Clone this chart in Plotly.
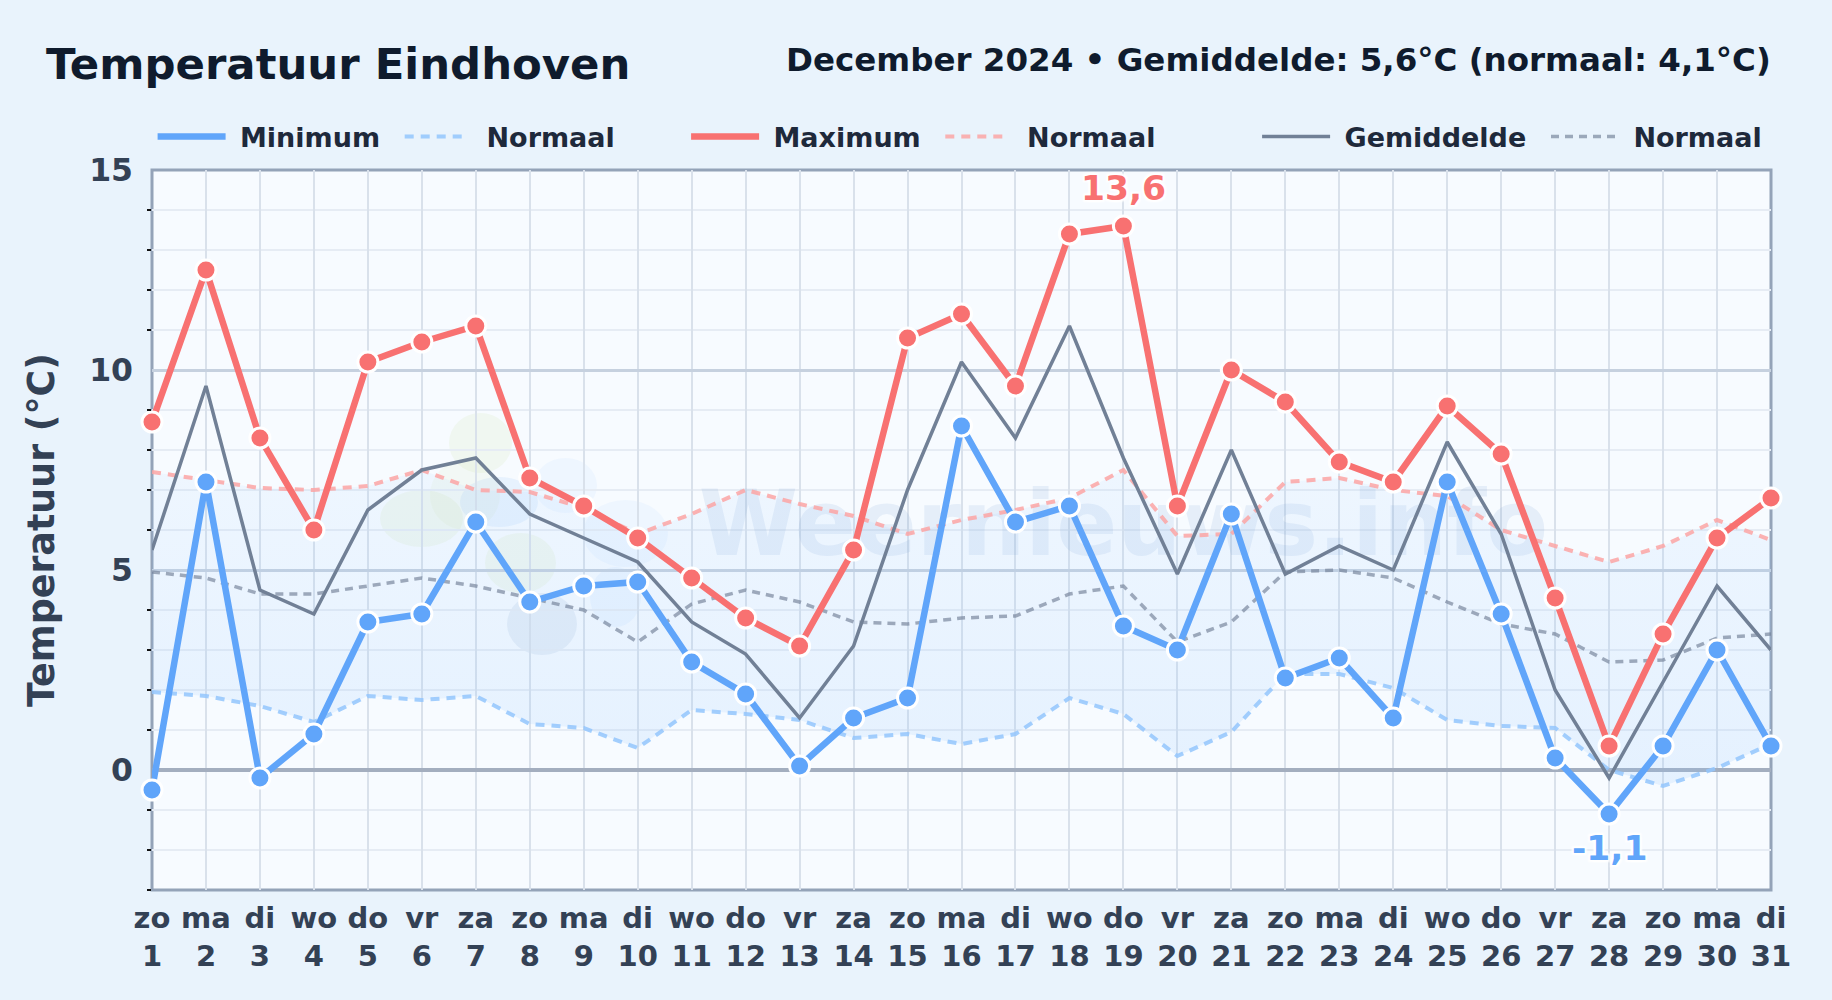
import plotly.graph_objects as go

days = list(range(1, 32))
weekdays = ["zo","ma","di","wo","do","vr","za","zo","ma","di","wo","do","vr","za","zo","ma","di","wo","do","vr","za","zo","ma","di","wo","do","vr","za","zo","ma","di"]
t_min = [-0.5,7.2,-0.2,0.9,3.7,3.9,6.2,4.2,4.6,4.7,2.7,1.9,0.1,1.3,1.8,8.6,6.2,6.6,3.6,3.0,6.4,2.3,2.8,1.3,7.2,3.9,0.3,-1.1,0.6,3.0,0.6]
t_max = [8.7,12.5,8.3,6.0,10.2,10.7,11.1,7.3,6.6,5.8,4.8,3.8,3.1,5.5,10.8,11.4,9.6,13.4,13.6,6.6,10.0,9.2,7.7,7.2,9.1,7.9,4.3,0.6,3.4,5.8,6.8]
t_avg = [5.5,9.6,4.5,3.9,6.5,7.5,7.8,6.4,5.8,5.2,3.7,2.9,1.3,3.1,7.0,10.2,8.3,11.1,7.8,4.9,8.0,4.9,5.6,5.0,8.2,5.9,2.0,-0.2,2.2,4.6,3.0]
norm_min = [1.95,1.85,1.6,1.2,1.85,1.75,1.85,1.15,1.05,0.55,1.5,1.4,1.25,0.8,0.9,0.65,0.9,1.8,1.4,0.35,0.95,2.4,2.4,2.05,1.25,1.1,1.05,0.0,-0.4,0.05,0.65]
norm_max = [7.45,7.25,7.05,7.0,7.1,7.5,7.0,6.95,6.55,5.9,6.4,7.0,6.65,6.35,5.9,6.25,6.5,6.8,7.5,5.85,5.9,7.2,7.3,7.0,6.85,6.0,5.6,5.2,5.6,6.25,5.75]
norm_avg = [4.95,4.8,4.4,4.4,4.6,4.8,4.6,4.3,4.0,3.2,4.15,4.5,4.2,3.7,3.65,3.8,3.85,4.4,4.6,3.2,3.7,4.95,5.0,4.8,4.2,3.65,3.4,2.7,2.75,3.3,3.4]

FONT = "DejaVu Sans"
W, H = 1832, 1000
L, R, T, B = 152, 1771, 170, 890
BLUE, RED, GREY = "#60a5fa", "#f87171", "#718096"
NB = "\u00a0"
x_labels = [f"{w}<br>{d}" for w, d in zip(weekdays, days)]
minor_vals = [v for v in range(-3, 15) if v % 5 != 0]

def px(x): return (x - L) / (R - L)
def py(y): return 1 - (y - T) / (B - T)

fig = go.Figure()
# watermark
fig.add_trace(go.Scatter(x=[19.0], y=[5.95], mode="text", text=["Weernieuws.info"], showlegend=False, hoverinfo="skip",
    cliponaxis=False, textposition="middle center",
    textfont=dict(family=FONT, size=90, weight="bold", color="rgba(80,130,200,0.10)")))
# band of normal values
fig.add_trace(go.Scatter(x=days, y=norm_min, mode="lines", line=dict(width=0), showlegend=False, hoverinfo="skip"))
fig.add_trace(go.Scatter(x=days, y=norm_max, mode="lines", line=dict(width=0), showlegend=False, hoverinfo="skip",
    fill="tonexty", fillgradient=dict(type="vertical", start=7.5, stop=0,
        colorscale=[[0, "rgba(147,197,253,0.09)"], [1, "rgba(147,197,253,0.18)"]])))
fig.add_trace(go.Scatter(x=days, y=norm_min, mode="lines", name=NB * 2 + "Normaal", legend="legend2",
    line=dict(color="rgba(147,197,253,0.85)", width=4, dash="9px,7px")))
fig.add_trace(go.Scatter(x=days, y=norm_max, mode="lines", name=NB * 2 + "Normaal", legend="legend4",
    line=dict(color="rgba(252,165,165,0.85)", width=4, dash="9px,7px")))
fig.add_trace(go.Scatter(x=days, y=norm_avg, mode="lines", name=NB + "Normaal", legend="legend6",
    line=dict(color="rgba(113,128,150,0.65)", width=3.5, dash="8px,6px")))
fig.add_trace(go.Scatter(x=days, y=t_avg, mode="lines", name=NB + "Gemiddelde", legend="legend5",
    line=dict(color=GREY, width=3.5)))
fig.add_trace(go.Scatter(x=days, y=t_max, mode="lines", name=NB + "Maximum", legend="legend3", cliponaxis=False,
    line=dict(color=RED, width=6.5)))
fig.add_trace(go.Scatter(x=days, y=t_max, mode="markers", showlegend=False, cliponaxis=False, hoverinfo="skip",
    marker=dict(size=20, color=RED, line=dict(color="white", width=3))))
fig.add_trace(go.Scatter(x=days, y=t_min, mode="lines", name=NB + "Minimum", legend="legend", cliponaxis=False,
    line=dict(color=BLUE, width=6.5)))
fig.add_trace(go.Scatter(x=days, y=t_min, mode="markers", showlegend=False, cliponaxis=False, hoverinfo="skip",
    marker=dict(size=20, color=BLUE, line=dict(color="white", width=3))))

blobs = [
    (449, 413, 512, 473, "rgba(190,215,130,0.11)"),
    (380, 490, 463, 547, "rgba(190,215,130,0.11)"),
    (485, 533, 556, 593, "rgba(190,215,130,0.11)"),
    (430, 460, 500, 530, "rgba(190,215,130,0.08)"),
    (460, 477, 538, 527, "rgba(96,165,250,0.10)"),
    (534, 458, 597, 513, "rgba(96,165,250,0.06)"),
    (583, 500, 668, 567, "rgba(96,165,250,0.06)"),
    (590, 567, 641, 627, "rgba(96,165,250,0.07)"),
    (507, 593, 577, 655, "rgba(70,110,170,0.09)"),
]
shapes = [dict(type="circle", xref="paper", yref="paper", x0=px(a), x1=px(c), y0=py(b), y1=py(d),
               fillcolor=col, line=dict(width=0), layer="below") for a, b, c, d, col in blobs]
# plot frame, centred on the plot edge
shapes.append(dict(type="rect", xref="paper", yref="paper", x0=0, x1=1, y0=0, y1=1,
                   line=dict(color="#94a3b8", width=3), layer="below"))

def legend_at(x_px, width):
    return dict(orientation="h", x=px(x_px), xanchor="left", y=py(137), yanchor="middle",
                bgcolor="rgba(0,0,0,0)", itemwidth=width, itemclick=False, itemdoubleclick=False,
                font=dict(family=FONT, size=27, color="#1e293b", weight="bold"))

halo = "2px 2px 2px white, -2px -2px 2px white, 2px -2px 2px white, -2px 2px 2px white"
fig.update_layout(
    width=W, height=H, autosize=False,
    margin=dict(l=L, r=W - R, t=T, b=H - B, pad=0),
    paper_bgcolor="#e9f3fc", plot_bgcolor="#f7fbff",
    font=dict(family=FONT, color="#334155"),
    title=dict(text="<b>Temperatuur Eindhoven</b>", x=46 / W, xanchor="left", y=1 - 64 / H, yanchor="middle",
               font=dict(family=FONT, size=43.4, color="#0f1b2d")),
    legend=legend_at(239.5 - 86.9, 68),
    legend2=legend_at(486 - 86.3, 58),
    legend3=legend_at(773 - 86.9, 68),
    legend4=legend_at(1026.6 - 86.3, 58),
    legend5=legend_at(1344 - 86.9, 68),
    legend6=legend_at(1546, 68),
    xaxis=dict(range=[1, 31], tickmode="array", tickvals=days, ticktext=x_labels, tickangle=0,
               tickfont=dict(family=FONT, size=29, color="#334155", weight="bold"),
               ticks="", showgrid=True, gridcolor="#d9e1eb", gridwidth=2, zeroline=False,
               showline=False, ticklabelstandoff=8),
    yaxis=dict(range=[-3, 15], tickmode="array", tickvals=[0, 5, 10, 15], ticktext=["0", "5", "10", "15"],
               tickfont=dict(family=FONT, size=31.5, color="#334155", weight="bold"),
               ticks="", showgrid=True, gridcolor="#c6d1df", gridwidth=3,
               zeroline=True, zerolinecolor="#a3aebf", zerolinewidth=3.5,
               showline=False, ticklabelstandoff=18,
               minor=dict(tickmode="array", tickvals=minor_vals, ticks="outside", ticklen=4, tickcolor="#111",
                          tickwidth=1.5, showgrid=True, gridcolor="#e6ecf4", gridwidth=2),
               title=dict(text="<b>Temperatuur (°C)</b>", font=dict(family=FONT, size=36.4, color="#334155"), standoff=23)),
    shapes=shapes,
    annotations=[
        dict(xref="paper", yref="paper", x=px(1773), y=py(60), xanchor="right", yanchor="middle", showarrow=False,
             text="<b>December 2024 • Gemiddelde: 5,6°C (normaal: 4,1°C)</b>",
             font=dict(family=FONT, size=32.5, color="#0f1b2d")),
        dict(x=19, y=max(t_max), yshift=38, showarrow=False, text="<b>13,6</b>",
             font=dict(family=FONT, size=34.5, color=RED, shadow=halo)),
        dict(x=28, y=min(t_min), yshift=-34, showarrow=False, text="<b>-1,1</b>",
             font=dict(family=FONT, size=34.5, color=BLUE, shadow=halo)),
    ],
)
fig.write_html("out.html", config={"displayModeBar": False},
               post_script="document.body.style.margin='0';document.body.style.overflow='hidden';")
